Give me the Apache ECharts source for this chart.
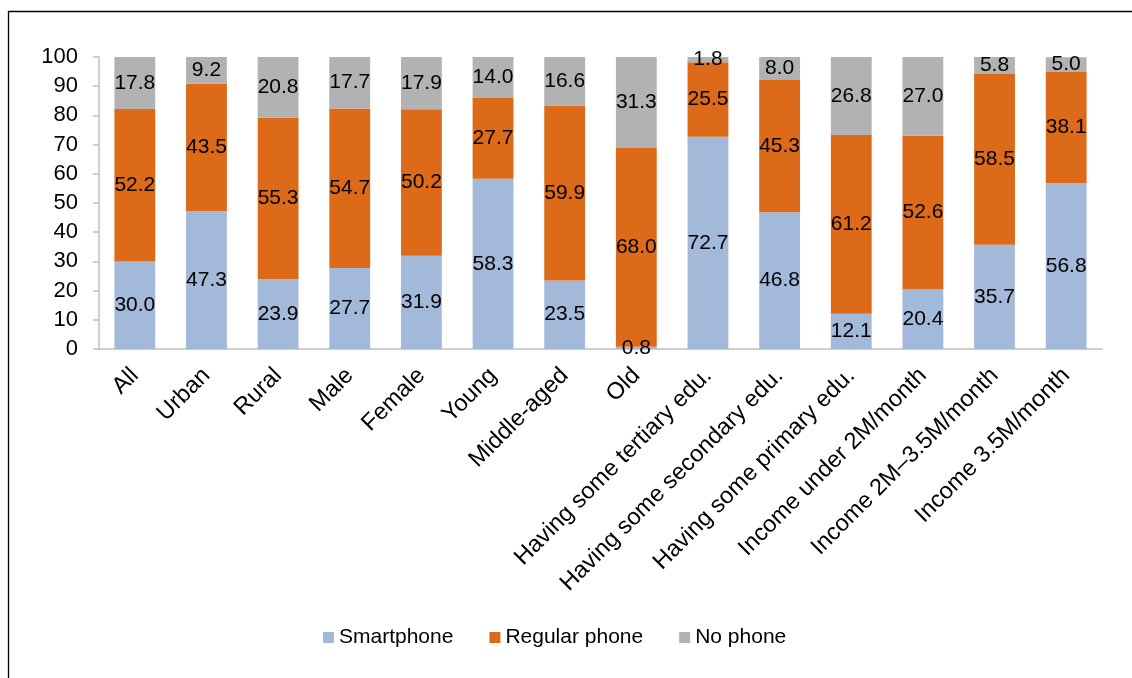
<!DOCTYPE html>
<html>
<head>
<meta charset="utf-8">
<script src="https://cdn.jsdelivr.net/npm/echarts@6/dist/echarts.min.js"></script>
<style>
html,body{margin:0;padding:0;background:#fff;}
#c{width:1132px;height:678px;}
</style>
</head>
<body>
<div id="c"></div>
<script>
const categories = ["All","Urban","Rural","Male","Female","Young","Middle-aged","Old","Having some tertiary edu.","Having some secondary edu.","Having some primary edu.","Income under 2M/month","Income 2M\u20133.5M/month","Income 3.5M/month"];
const smartphone = [30.0,47.3,23.9,27.7,31.9,58.3,23.5,0.8,72.7,46.8,12.1,20.4,35.7,56.8];
const regularPhone = [52.2,43.5,55.3,54.7,50.2,27.7,59.9,68.0,25.5,45.3,61.2,52.6,58.5,38.1];
const noPhone = [17.8,9.2,20.8,17.7,17.9,14.0,16.6,31.3,1.8,8.0,26.8,27.0,5.8,5.0];
const yTicks = [0,10,20,30,40,50,60,70,80,90,100];

const FONT = "'Liberation Sans', Arial, sans-serif";
const chart = echarts.init(document.getElementById('c'), null, {renderer:'canvas'});
const lbl = {
  show: true, position: 'inside', color: '#000', fontSize: 21, fontFamily: FONT,
  formatter: p => Number(p.value).toFixed(1)
};
function mk(name, data, color){
  return {name, type:'bar', stack:'a', data, barWidth:'57%',
    itemStyle:{color}, label: lbl, emphasis:{disabled:true}};
}
chart.setOption({
  animation:false,
  textStyle:{fontFamily:FONT},
  graphic:[{type:'rect', shape:{x:8.5,y:11.5,width:1200,height:800},
    style:{fill:null, stroke:'#000', lineWidth:1.3}, silent:true, z:-1}],
  grid:{left:99, right:30, top:57, bottom:329, containLabel:false},
  legend:{
    bottom: 25, left:318, itemWidth:11, itemHeight:11, itemGap:36,
    icon:'rect',
    textStyle:{fontSize:21, color:'#000', fontFamily:FONT},
    data:['Smartphone','Regular phone','No phone']
  },
  xAxis:{
    type:'category', data:categories,
    axisLine:{lineStyle:{color:'#BFBFBF', width:1.5}},
    axisTick:{show:false},
    axisLabel:{rotate:45, interval:0, color:'#000', fontSize:23.5, fontFamily:FONT, margin:23}
  },
  yAxis:{
    type:'value', min:yTicks[0], max:yTicks[yTicks.length-1], interval:10,
    axisLine:{show:true, lineStyle:{color:'#BFBFBF', width:1.5}},
    axisTick:{show:true, length:6, lineStyle:{color:'#BFBFBF', width:1.5}},
    splitLine:{show:false},
    axisLabel:{color:'#000', fontSize:22, fontFamily:FONT, margin:21}
  },
  series:[
    mk('Smartphone', smartphone, '#A3B9DA'),
    mk('Regular phone', regularPhone, '#DC6A19'),
    mk('No phone', noPhone, '#B2B2B2')
  ]
});
</script>
</body>
</html>
